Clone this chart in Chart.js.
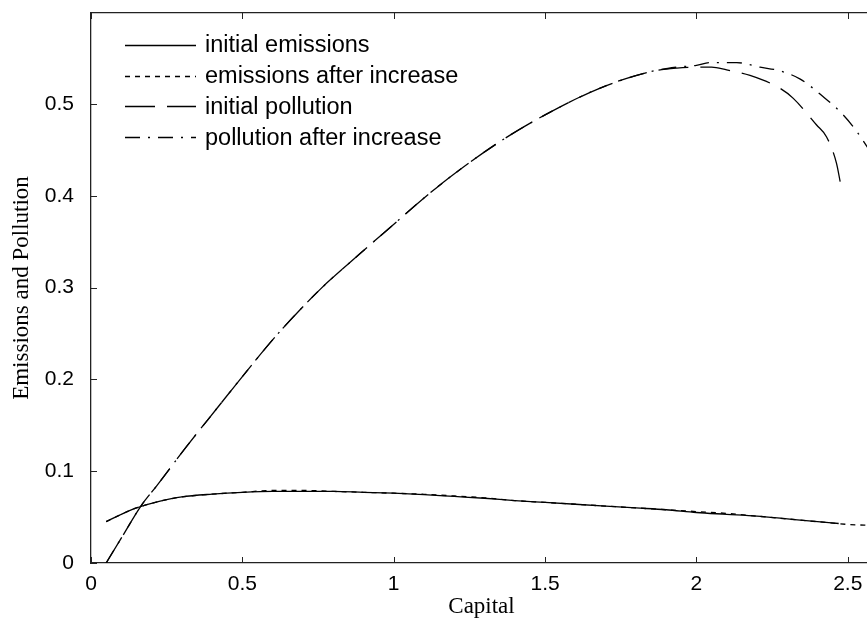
<!DOCTYPE html>
<html>
<head>
<meta charset="utf-8">
<script src="https://cdn.jsdelivr.net/npm/chart.js@4/dist/chart.umd.min.js"></script>
<style>
  html, body { margin: 0; padding: 0; background: #fff; overflow: hidden; }
  canvas { display: block; }
</style>
</head>
<body>
<canvas id="chart" width="880" height="622"></canvas>
<script>
// values
const emInitCapital = [0.05, 0.1, 0.15, 0.2, 0.25, 0.3, 0.4, 0.5, 0.6, 0.7, 0.8, 0.9, 1.0, 1.1, 1.2, 1.3, 1.4, 1.5, 1.6, 1.7, 1.8, 1.9, 2.0, 2.1, 2.2, 2.3, 2.4, 2.47];
const emInit = [0.045, 0.053, 0.060, 0.065, 0.069, 0.072, 0.075, 0.077, 0.078, 0.078, 0.078, 0.077, 0.076, 0.0745, 0.0725, 0.0705, 0.068, 0.066, 0.064, 0.062, 0.060, 0.058, 0.055, 0.053, 0.051, 0.048, 0.045, 0.043];

const emAfterCapital = [0.05, 0.1, 0.15, 0.2, 0.25, 0.3, 0.4, 0.5, 0.6, 0.7, 0.8, 0.9, 1.0, 1.1, 1.2, 1.3, 1.4, 1.5, 1.6, 1.7, 1.8, 1.9, 2.0, 2.1, 2.2, 2.3, 2.4, 2.5, 2.58];
const emAfter = [0.045, 0.053, 0.060, 0.065, 0.069, 0.072, 0.075, 0.077, 0.079, 0.079, 0.078, 0.077, 0.076, 0.0748, 0.073, 0.071, 0.068, 0.066, 0.064, 0.062, 0.060, 0.058, 0.056, 0.054, 0.051, 0.048, 0.045, 0.042, 0.041];

const polInitCapital = [0.05, 0.1, 0.167, 0.217, 0.316, 0.415, 0.5, 0.613, 0.757, 0.889, 0.99, 1.12, 1.25, 1.37, 1.5, 1.68, 1.847, 1.935, 2.0, 2.05, 2.1, 2.177, 2.276, 2.32, 2.397, 2.43, 2.463, 2.475];
const polInit = [0, 0.027, 0.063, 0.084, 0.127, 0.168, 0.203, 0.248, 0.298, 0.337, 0.366, 0.403, 0.436, 0.463, 0.488, 0.517, 0.535, 0.539, 0.540, 0.540, 0.537, 0.531, 0.517, 0.506, 0.477, 0.464, 0.435, 0.415];

const polAfterCapital = [0.05, 0.1, 0.167, 0.217, 0.316, 0.415, 0.5, 0.613, 0.757, 0.889, 0.99, 1.12, 1.25, 1.37, 1.5, 1.68, 1.847, 1.935, 2.0, 2.045, 2.133, 2.21, 2.276, 2.343, 2.418, 2.485, 2.534, 2.58];
const polAfter = [0, 0.027, 0.063, 0.084, 0.127, 0.168, 0.203, 0.248, 0.298, 0.337, 0.366, 0.403, 0.436, 0.463, 0.488, 0.517, 0.535, 0.540, 0.542, 0.545, 0.545, 0.540, 0.536, 0.527, 0.508, 0.488, 0.468, 0.445];

const seriesNames = ["initial emissions", "emissions after increase", "initial pollution", "pollution after increase"];
const xTicks = [0, 0.5, 1, 1.5, 2, 2.5];
const yTicks = [0, 0.1, 0.2, 0.3, 0.4, 0.5];

const pts = (xs, ys) => xs.map((x, i) => ({ x: x, y: ys[i] }));

function line(label, data, dash) {
  return {
    label: label,
    data: data,
    borderColor: "#000",
    borderWidth: 1.3,
    borderDash: dash,
    pointRadius: 0,
    cubicInterpolationMode: "monotone",
    fill: false
  };
}

// ticks pointing into the plot, like the original
const inwardTicks = {
  id: "inwardTicks",
  afterDraw(chart) {
    const { ctx, chartArea: a, scales } = chart;
    ctx.save();
    ctx.strokeStyle = "#222";
    ctx.lineWidth = 1;
    ctx.beginPath();
    xTicks.forEach(v => {
      const px = Math.round(scales.x.getPixelForValue(v)) + 0.5;
      ctx.moveTo(px, a.bottom); ctx.lineTo(px, a.bottom - 6);
      ctx.moveTo(px, a.top); ctx.lineTo(px, a.top + 6);
    });
    yTicks.forEach(v => {
      const py = Math.round(scales.y.getPixelForValue(v)) + 0.5;
      ctx.moveTo(a.left, py); ctx.lineTo(a.left + 6, py);
    });
    ctx.stroke();
    ctx.restore();
  }
};

// legend inside the axes, top-left, no box
const innerLegend = {
  id: "innerLegend",
  afterDraw(chart) {
    const ctx = chart.ctx;
    ctx.save();
    ctx.font = "23.5px 'Liberation Sans', Arial, sans-serif";
    ctx.textBaseline = "middle";
    ctx.fillStyle = "#000";
    chart.data.datasets.forEach((ds, i) => {
      const y = 45 + i * 30.7;
      ctx.strokeStyle = "#000";
      ctx.lineWidth = 1.3;
      ctx.setLineDash(ds.borderDash);
      ctx.beginPath();
      ctx.moveTo(125, Math.round(y) + 0.5);
      ctx.lineTo(196, Math.round(y) + 0.5);
      ctx.stroke();
      ctx.setLineDash([]);
      ctx.fillText(ds.label, 205, y + 1);
    });
    ctx.restore();
  }
};

const tickFont = { family: "'Liberation Sans', Arial, sans-serif", size: 21 };
const titleFont = { family: "'Liberation Serif', 'Times New Roman', serif", size: 23 };

new Chart(document.getElementById("chart"), {
  type: "line",
  data: {
    datasets: [
      line(seriesNames[0], pts(emInitCapital, emInit), []),
      line(seriesNames[1], pts(emAfterCapital, emAfter), [5, 5]),
      line(seriesNames[2], pts(polInitCapital, polInit), [30, 12]),
      line(seriesNames[3], pts(polAfterCapital, polAfter), [15, 8, 2, 8])
    ]
  },
  options: {
    responsive: false,
    animation: false,
    layout: { padding: { left: 0, right: 8, top: 0, bottom: 0 } },
    plugins: { legend: { display: false }, tooltip: { enabled: false } },
    scales: {
      x: {
        type: "linear",
        position: "bottom",
        min: 0,
        max: 2.58,
        afterBuildTicks: s => { s.ticks = xTicks.map(v => ({ value: v })); },
        afterFit: s => { s.height = 59; s.paddingLeft = 0; s.paddingRight = 0; },
        grid: { display: false },
        border: { display: true, color: "#222", width: 1.3 },
        ticks: { color: "#000", font: tickFont, padding: 1, maxRotation: 0, callback: v => String(v) },
        title: { display: true, text: "Capital", color: "#000", font: titleFont, padding: { top: 0, bottom: 1 } }
      },
      x2: {
        type: "linear",
        position: "top",
        min: 0,
        max: 2.58,
        afterFit: s => { s.height = 13; },
        grid: { display: false },
        border: { display: true, color: "#222", width: 1.3 },
        ticks: { display: false }
      },
      y: {
        type: "linear",
        min: 0,
        max: 0.599,
        afterBuildTicks: s => { s.ticks = yTicks.map(v => ({ value: v })); },
        afterFit: s => { s.width = 91; s.paddingTop = 0; s.paddingBottom = 0; },
        grid: { display: false },
        border: { display: true, color: "#222", width: 1.3 },
        ticks: { color: "#000", font: tickFont, padding: 9 },
        title: { display: true, text: "Emissions and Pollution", color: "#000", font: titleFont, padding: { top: 8, bottom: 0 } }
      }
    }
  },
  plugins: [inwardTicks, innerLegend]
});
</script>
</body>
</html>
